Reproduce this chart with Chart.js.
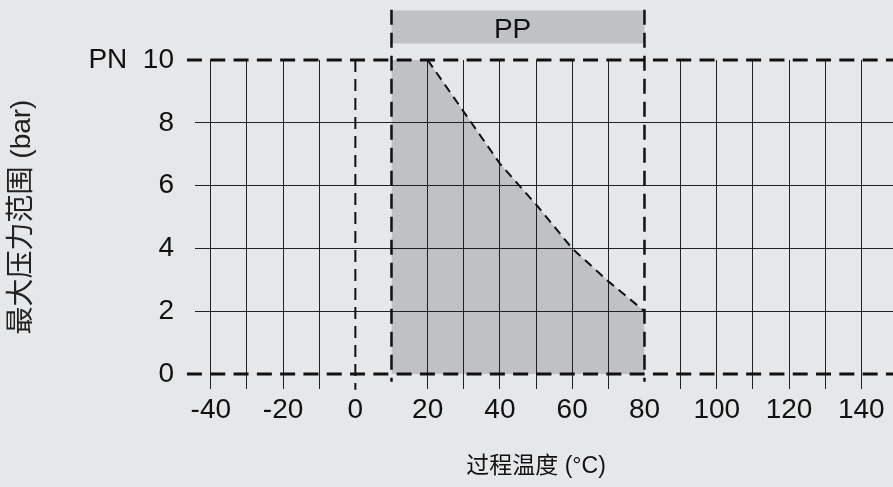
<!DOCTYPE html>
<html>
<head>
<meta charset="utf-8">
<script src="https://cdn.jsdelivr.net/npm/chart.js@4/dist/chart.umd.min.js"></script>
<style>
  html, body { margin: 0; padding: 0; background: #e6e7e9; }
  canvas { display: block; }
</style>
</head>
<body>
<canvas id="myChart" width="893" height="487"></canvas>
<script>
// pressure limit of PP over temperature
var temps = [10, 20, 30, 40, 50, 60, 70, 80]
var pressure = [10, 10, 8.35, 6.7, 5.4, 4.0, 2.95, 2.0]

var xTicks = [-40, -30, -20, -10, 0, 10, 20, 30, 40, 50, 60, 70, 80, 90, 100, 110, 120, 130, 140]
var yTicks = [0, 1, 2, 3, 4, 5, 6, 7, 8, 9, 10]

var material = 'PP'
var materialRange = [10, 80]
var pnLabel = 'PN'

var xTitle = '过程温度 (°C)'
var yTitle = '最大压力范围 (bar)'

var lineCol = '#222'
var fillCol = '#bfc1c4'

function pts(xs, ys) {
  return xs.map(function (x, i) { return { x: x, y: ys[i] } })
}

// text above the chart and the x title, placed with the scales
var textPlugin = {
  id: 'texts',
  afterDatasetsDraw: function (chart) {
    var ctx = chart.ctx
    var xs = chart.scales.x
    ctx.save()
    ctx.fillStyle = '#111'
    ctx.textAlign = 'center'
    ctx.textBaseline = 'middle'
    ctx.font = '28px "Liberation Sans", Arial, sans-serif'
    ctx.fillText(material, xs.getPixelForValue(43.5), 30)
    ctx.font = '23px "Liberation Sans", "Noto Sans CJK SC", sans-serif'
    ctx.fillText(xTitle, xs.getPixelForValue(50), 467)
    ctx.restore()
  }
}

var ctx = document.getElementById('myChart').getContext('2d');
var myChart = new Chart(ctx, {
  type: 'line',
  data: {
    datasets: [
      {
        // thick dashed limits at 0 and 10 bar
        data: pts([-46.6, 150], [0, 0]),
        borderColor: '#111', borderWidth: 3, borderDash: [15, 8.3],
        pointRadius: 0, clip: false, order: 1
      },
      {
        data: pts([-46.6, 150], [10, 10]),
        borderColor: '#111', borderWidth: 3, borderDash: [15, 8.3],
        pointRadius: 0, clip: false, order: 1
      },
      {
        // 0 degC line
        data: pts([0, 0], [10, -0.5]),
        borderColor: '#111', borderWidth: 2, borderDash: [12, 7],
        pointRadius: 0, clip: false, order: 2
      },
      {
        data: pts([materialRange[0], materialRange[0]], [11.6, -0.25]),
        borderColor: '#111', borderWidth: 2.5, borderDash: [15, 8],
        pointRadius: 0, clip: false, order: 2
      },
      {
        data: pts([materialRange[1], materialRange[1]], [11.6, -0.25]),
        borderColor: '#111', borderWidth: 2.5, borderDash: [15, 8],
        pointRadius: 0, clip: false, order: 2
      },
      {
        // sloped limit
        data: pts(temps.slice(1), pressure.slice(1)),
        borderColor: '#111', borderWidth: 2, borderDash: [9, 6],
        pointRadius: 0, order: 3
      },
      {
        // material bar
        data: pts(materialRange, [11.05, 11.05]),
        borderColor: fillCol, borderWidth: 33, borderCapStyle: 'butt',
        pointRadius: 0, clip: false, order: 4
      },
      {
        // allowed area
        data: pts(temps, pressure),
        borderColor: 'transparent', borderWidth: 0,
        backgroundColor: fillCol, fill: 'origin',
        pointRadius: 0, order: 5
      }
    ]
  },
  options: {
    responsive: false,
    animation: false,
    devicePixelRatio: 1,
    layout: { padding: { top: 60, right: 0, left: 0, bottom: 0 } },
    plugins: {
      legend: { display: false },
      tooltip: { enabled: false },
      filler: { drawTime: 'beforeDraw' }
    },
    scales: {
      x: {
        type: 'linear',
        min: -44.37,
        max: 148.77,
        afterBuildTicks: function (scale) {
          scale.ticks = xTicks.map(function (v) { return { value: v } })
        },
        afterFit: function (scale) { scale.height = 113 },
        ticks: {
          autoSkip: false,
          maxRotation: 0,
          padding: 4,
          color: '#111',
          font: { family: '"Liberation Sans", Arial, sans-serif', size: 28 },
          callback: function (v) { return v % 20 === 0 ? String(v) : '' }
        },
        grid: {
          color: function (c) {
            var v = c.tick && c.tick.value
            return (v === 0 || v === 10 || v === 80) ? 'transparent' : lineCol
          },
          lineWidth: 1,
          tickLength: 15
        },
        border: { display: false }
      },
      y: {
        min: 0,
        max: 10,
        afterBuildTicks: function (scale) {
          scale.ticks = yTicks.map(function (v) { return { value: v } })
        },
        afterFit: function (scale) { scale.width = 195 },
        ticks: {
          padding: 21,
          color: '#111',
          font: { family: '"Liberation Sans", Arial, sans-serif', size: 28 },
          callback: function (v) {
            if (v % 2 !== 0) return ''
            return v === 10 ? pnLabel + '  ' + v : String(v)
          }
        },
        grid: {
          color: function (c) {
            var v = c.tick && c.tick.value
            return (v === 0 || v === 10) ? 'transparent' : lineCol
          },
          lineWidth: 1,
          drawTicks: false
        },
        border: { display: false },
        title: {
          display: true,
          text: yTitle,
          color: '#222',
          padding: { top: 5, bottom: 0 },
          font: { family: '"Liberation Sans", "Noto Sans CJK SC", sans-serif', size: 28 }
        }
      }
    }
  },
  plugins: [textPlugin]
})
</script>
</body>
</html>
